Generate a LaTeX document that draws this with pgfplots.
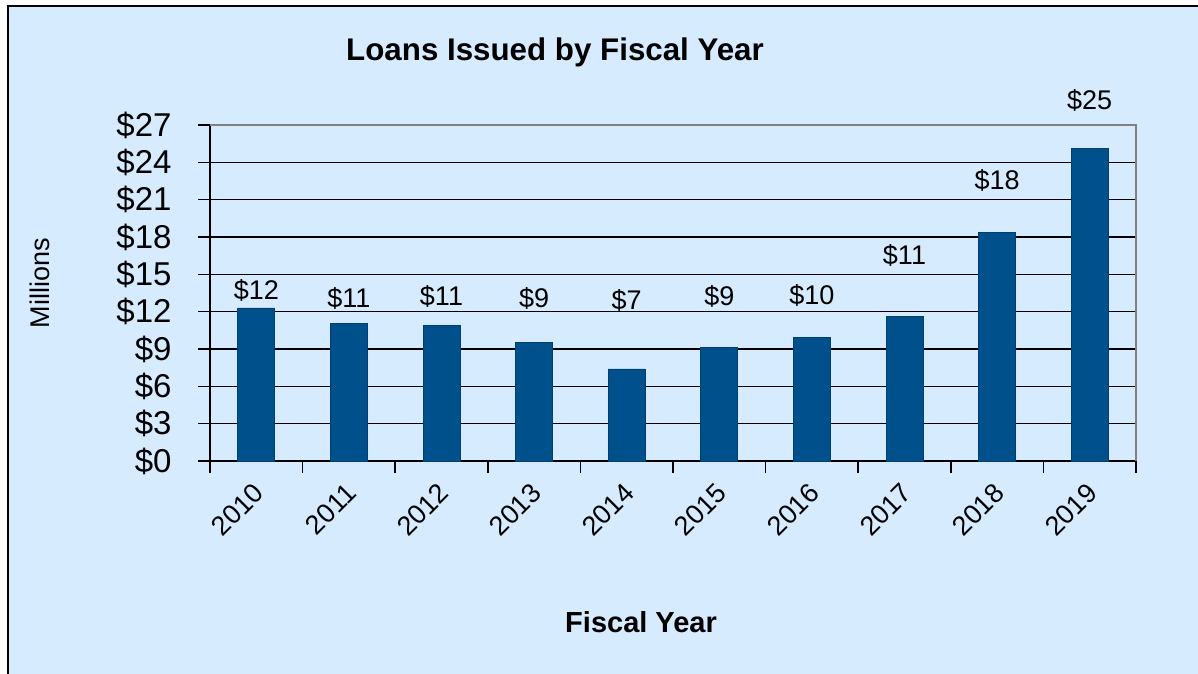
\documentclass[border=0pt]{standalone}
\usepackage{pgfplots}
\pgfplotsset{compat=1.18}
\usepackage{fontspec}
\setmainfont{Liberation Sans}
\definecolor{bgblue}{HTML}{D6EBFE}
\definecolor{barblue}{HTML}{00508C}
\definecolor{baredge}{HTML}{003F72}
\pgfplotstableread[row sep=\\]{
x y lab\\
0 13.74 12\\
1 13.10 11\\
2 13.26 11\\
3 13.10 9\\
4 12.94 7\\
5 13.26 9\\
6 13.34 10\\
7 16.55 11\\
8 22.58 18\\
9 29.00 25\\
}\labtable
\begin{document}
\begin{tikzpicture}[x=1pt,y=1pt]
\useasboundingbox (0,0) rectangle (1198,673);
\fill[white] (0,0) rectangle (1198,673);
\draw[fill=bgblue, line width=2pt] (8,-20) rectangle (1220,667);
\node[font=\fontsize{31.3}{37}\selectfont\bfseries] at (555,621) {Loans Issued by Fiscal Year};
\node[font=\fontsize{29}{35}\selectfont\bfseries] at (641,51) {Fiscal Year};
\node[font=\fontsize{27}{32}\selectfont, rotate=90] at (40,390) {Millions};
\begin{axis}[
 at={(210pt,212pt)}, anchor=south west, scale only axis,
 width=926pt, height=336pt,
 xmin=-0.5, xmax=9.5, ymin=0, ymax=27,
 axis lines*=left,
 axis line style={line width=1.5pt, black},
 ytick={0,3,6,9,12,15,18,21,24,27},
 yticklabels={\$0,\$3,\$6,\$9,\$12,\$15,\$18,\$21,\$24,\$27},
 ymajorgrids, major grid style={black, line width=1.5pt},
 xtick={-0.5,0.5,1.5,2.5,3.5,4.5,5.5,6.5,7.5,8.5,9.5},
 xticklabels={},
 extra x ticks={0,1,2,3,4,5,6,7,8,9},
 extra x tick labels={2010,2011,2012,2013,2014,2015,2016,2017,2018,2019},
 extra x tick style={major tick length=0pt, grid=none,
   xticklabel style={xshift=5pt, yshift=-25pt, rotate=45, anchor=east, font=\fontsize{27}{32}\selectfont}},
 tick align=outside, major tick length=12pt,
 tick style={black, line width=1.5pt},
 yticklabel style={xshift=-23pt, font=\fontsize{33}{36}\selectfont},
 clip=false,
]
\addplot[ybar, bar width=37pt, fill=barblue, draw=baredge, line width=0.8pt]
 coordinates {(0,12.3) (1,11.05) (2,10.9) (3,9.5) (4,7.4) (5,9.1) (6,9.9) (7,11.6) (8,18.4) (9,25.1)};
\draw[color=gray, line width=1.5pt] (rel axis cs:0,1) -- (rel axis cs:1,1) -- (rel axis cs:1,0);
\addplot[draw=none, mark=none, nodes near coords={\$\pgfplotspointmeta},
 point meta=explicit symbolic,
 nodes near coords style={anchor=center, black, font=\fontsize{27}{32}\selectfont}]
 table[x=x, y=y, meta=lab] {\labtable};
\end{axis}
\end{tikzpicture}
\end{document}
